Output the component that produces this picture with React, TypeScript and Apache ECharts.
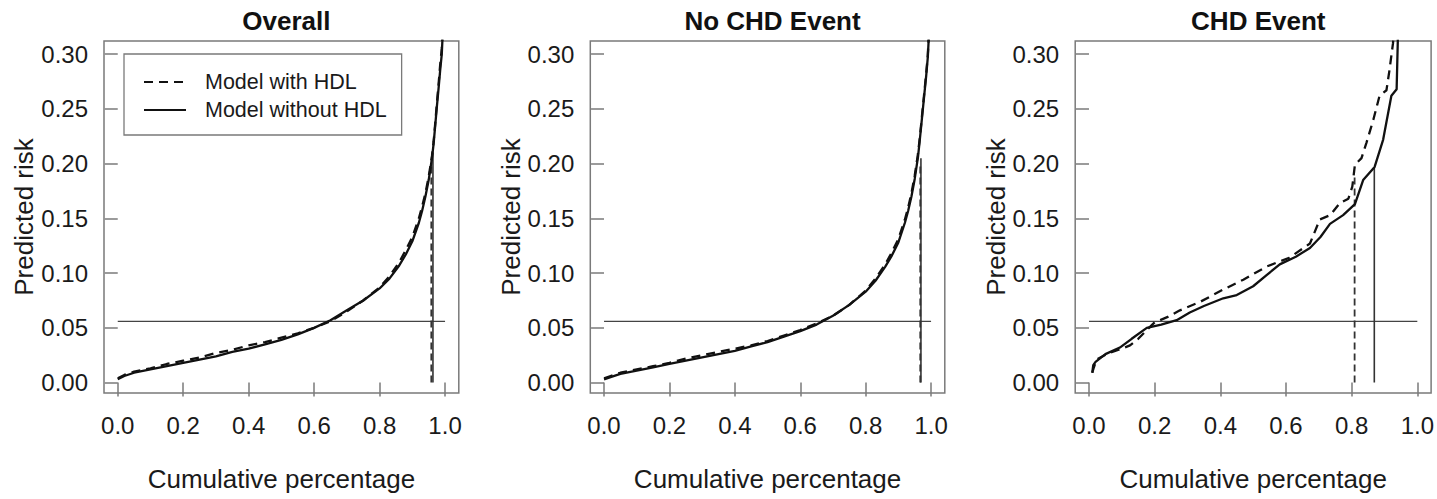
import React, { useEffect, useRef } from "react";
import * as echarts from "echarts";

// ---------- data ----------
const panelTitles = ["Overall", "No CHD Event", "CHD Event"];
const seriesNames = ["Model with HDL", "Model without HDL"];
const xTicks = [0, 0.2, 0.4, 0.6, 0.8, 1.0];
const yTicks = [0, 0.05, 0.1, 0.15, 0.2, 0.25, 0.3];
const eventRate = 0.056;

// Overall
const overallX = [0, 0.02, 0.05, 0.1, 0.15, 0.2, 0.25, 0.3, 0.35, 0.4, 0.45, 0.5, 0.55, 0.6, 0.65, 0.7, 0.75, 0.8, 0.83, 0.86, 0.88, 0.9, 0.92, 0.93, 0.94, 0.95, 0.96, 0.965, 0.97, 0.975, 0.98, 0.985, 0.99, 0.993];
const overallWithHDL = [0.004, 0.007, 0.010, 0.013, 0.017, 0.020, 0.023, 0.027, 0.030, 0.034, 0.037, 0.041, 0.045, 0.050, 0.056, 0.065, 0.075, 0.087, 0.097, 0.110, 0.121, 0.133, 0.150, 0.161, 0.173, 0.188, 0.207, 0.220, 0.237, 0.255, 0.272, 0.290, 0.305, 0.325];
const overallWithoutHDL = [0.003, 0.006, 0.009, 0.012, 0.015, 0.018, 0.021, 0.024, 0.028, 0.031, 0.035, 0.039, 0.044, 0.050, 0.057, 0.066, 0.075, 0.086, 0.095, 0.107, 0.117, 0.129, 0.146, 0.157, 0.170, 0.185, 0.205, 0.218, 0.235, 0.252, 0.268, 0.285, 0.300, 0.320];

// No CHD event
const noEventX = overallX;
const noEventWithHDL = [0.004, 0.006, 0.009, 0.012, 0.015, 0.018, 0.022, 0.025, 0.028, 0.031, 0.034, 0.038, 0.043, 0.048, 0.054, 0.061, 0.071, 0.084, 0.095, 0.108, 0.119, 0.131, 0.149, 0.160, 0.173, 0.189, 0.209, 0.222, 0.237, 0.252, 0.267, 0.282, 0.299, 0.318];
const noEventWithoutHDL = [0.003, 0.005, 0.008, 0.011, 0.014, 0.017, 0.020, 0.023, 0.026, 0.029, 0.033, 0.037, 0.042, 0.047, 0.053, 0.061, 0.071, 0.083, 0.093, 0.106, 0.116, 0.128, 0.146, 0.157, 0.170, 0.186, 0.206, 0.220, 0.235, 0.250, 0.265, 0.280, 0.297, 0.315];

// CHD event
const eventWithX = [0.010, 0.015, 0.023, 0.06, 0.10, 0.125, 0.15, 0.176, 0.2, 0.24, 0.277, 0.34, 0.409, 0.47, 0.541, 0.61, 0.673, 0.703, 0.735, 0.764, 0.79, 0.802, 0.81, 0.83, 0.845, 0.866, 0.885, 0.906, 0.915, 0.926, 0.93];
const eventWithHDL = [0.009, 0.014, 0.021, 0.027, 0.031, 0.034, 0.040, 0.048, 0.055, 0.060, 0.066, 0.074, 0.085, 0.094, 0.106, 0.114, 0.127, 0.149, 0.153, 0.164, 0.168, 0.179, 0.199, 0.205, 0.219, 0.240, 0.262, 0.267, 0.285, 0.310, 0.330];
const eventWithoutX = [0.010, 0.013, 0.02, 0.05, 0.094, 0.13, 0.176, 0.22, 0.267, 0.307, 0.35, 0.409, 0.45, 0.5, 0.54, 0.581, 0.63, 0.673, 0.705, 0.734, 0.774, 0.81, 0.835, 0.87, 0.896, 0.921, 0.937, 0.942];
const eventWithoutHDL = [0.009, 0.016, 0.019, 0.026, 0.032, 0.040, 0.050, 0.053, 0.057, 0.064, 0.070, 0.077, 0.080, 0.088, 0.098, 0.108, 0.115, 0.123, 0.133, 0.145, 0.153, 0.163, 0.185, 0.197, 0.222, 0.262, 0.268, 0.330];

// vertical cut-off lines (x position, top value), per panel
const cutoffWithHDLX = [0.958, 0.967, 0.809];
const cutoffWithHDLTop = [0.200, 0.200, 0.190];
const cutoffWithoutHDLX = [0.963, 0.969, 0.869];
const cutoffWithoutHDLTop = [0.210, 0.205, 0.196];

// ---------- layout ----------
const gridLefts = [104, 590.3, 1075.2];
const gridWidths = [354.8, 354.5, 356.1];
const X_MIN = -0.042;
const X_MAX = 1.042;
const Y_MIN = -0.0095;
const Y_MAX = 0.312;
const FONT = "Liberation Sans, Arial, Helvetica, sans-serif";
const BOX = "#7a7a7a";

function pairs(xs: number[], ys: number[]) {
  return xs.map((x, i) => [x, ys[i]]);
}

const panelData = [
  { wx: overallX, wy: overallWithHDL, ox: overallX, oy: overallWithoutHDL },
  { wx: noEventX, wy: noEventWithHDL, ox: noEventX, oy: noEventWithoutHDL },
  { wx: eventWithX, wy: eventWithHDL, ox: eventWithoutX, oy: eventWithoutHDL },
];

export default function App() {
  const ref = useRef<HTMLDivElement>(null);
  useEffect(() => {
    if (!ref.current) return;
    const chart = echarts.init(ref.current, null, { renderer: "svg" });
    const grids: any[] = [];
    const xAxes: any[] = [];
    const yAxes: any[] = [];
    const series: any[] = [];
    const titles: any[] = [];
    for (let p = 0; p < 3; p++) {
      grids.push({
        left: gridLefts[p],
        top: 41,
        width: gridWidths[p],
        height: 352,
        show: true,
        borderColor: BOX,
        borderWidth: 1.5,
        backgroundColor: "transparent",
      });
      xAxes.push({
        type: "value",
        gridIndex: p,
        min: X_MIN,
        max: X_MAX,
        axisLine: { show: false },
        splitLine: { show: false },
        axisTick: {
          show: true,
          customValues: xTicks,
          length: 14,
          lineStyle: { color: BOX, width: 1.5 },
        },
        axisLabel: {
          customValues: xTicks,
          formatter: (v: number) => v.toFixed(1),
          fontSize: 24,
          color: "#1a1a1a",
          margin: 20,
          fontFamily: FONT,
        },
        name: "Cumulative percentage",
        nameLocation: "middle",
        nameGap: 73,
        nameTextStyle: { fontSize: 26, color: "#1a1a1a", fontFamily: FONT },
      });
      yAxes.push({
        type: "value",
        gridIndex: p,
        min: Y_MIN,
        max: Y_MAX,
        axisLine: { show: false },
        splitLine: { show: false },
        axisTick: {
          show: true,
          customValues: yTicks,
          length: 13,
          lineStyle: { color: BOX, width: 1.5 },
        },
        axisLabel: {
          customValues: yTicks,
          formatter: (v: number) => v.toFixed(2),
          fontSize: 24,
          color: "#1a1a1a",
          margin: 16,
          fontFamily: FONT,
        },
        name: "Predicted risk",
        nameLocation: "middle",
        nameRotate: 90,
        nameGap: 64,
        nameTextStyle: { fontSize: 26, color: "#1a1a1a", fontFamily: FONT },
      });
      titles.push({
        text: panelTitles[p],
        left: gridLefts[p] + gridWidths[p] / 2,
        textAlign: "center",
        top: 3,
        textStyle: { fontSize: 26, fontWeight: "bold", color: "#111", fontFamily: FONT },
      });
      const d = panelData[p];
      series.push({
        type: "line",
        name: seriesNames[0],
        xAxisIndex: p,
        yAxisIndex: p,
        data: pairs(d.wx, d.wy),
        showSymbol: false,
        symbol: "none",
        lineStyle: { color: "#111", width: 2.3, type: [9, 6] },
        itemStyle: { color: "#111" },
        z: 3,
      });
      series.push({
        type: "line",
        name: seriesNames[1],
        xAxisIndex: p,
        yAxisIndex: p,
        data: pairs(d.ox, d.oy),
        showSymbol: false,
        symbol: "none",
        lineStyle: { color: "#111", width: 2.3, type: "solid" },
        itemStyle: { color: "#111" },
        z: 3,
      });
      series.push({
        type: "line",
        name: "ref",
        xAxisIndex: p,
        yAxisIndex: p,
        data: [[0, eventRate], [1, eventRate]],
        symbol: "none",
        silent: true,
        lineStyle: { color: "#444", width: 1.3 },
        z: 2,
      });
      series.push({
        type: "line",
        name: "cutWith",
        xAxisIndex: p,
        yAxisIndex: p,
        data: [[cutoffWithHDLX[p], 0], [cutoffWithHDLX[p], cutoffWithHDLTop[p]]],
        symbol: "none",
        silent: true,
        lineStyle: { color: "#333", width: 1.8, type: [7, 4] },
        z: 2,
      });
      series.push({
        type: "line",
        name: "cutWithout",
        xAxisIndex: p,
        yAxisIndex: p,
        data: [[cutoffWithoutHDLX[p], 0], [cutoffWithoutHDLX[p], cutoffWithoutHDLTop[p]]],
        symbol: "none",
        silent: true,
        lineStyle: { color: "#333", width: 1.6 },
        z: 2,
      });
    }
    chart.setOption({
      animation: false,
      backgroundColor: "#ffffff",
      textStyle: { fontFamily: FONT },
      title: titles,
      grid: grids,
      xAxis: xAxes,
      yAxis: yAxes,
      legend: {
        data: seriesNames,
        orient: "vertical",
        left: 124,
        top: 54,
        padding: [17, 15, 14, 19],
        borderColor: BOX,
        borderWidth: 1.3,
        itemWidth: 42,
        itemHeight: 14,
        itemGap: 6,
        selectedMode: false,
        itemStyle: { opacity: 0, color: "transparent", borderWidth: 0 },
        textStyle: { fontSize: 21.5, lineHeight: 22, color: "#1a1a1a", padding: [0, 0, 0, 14], fontFamily: FONT },
      },
      series,
    });
    return () => chart.dispose();
  }, []);
  return (
    <div
      ref={ref}
      style={{ position: "absolute", left: 0, top: 0, width: 1437, height: 499, background: "#fff" }}
    />
  );
}
